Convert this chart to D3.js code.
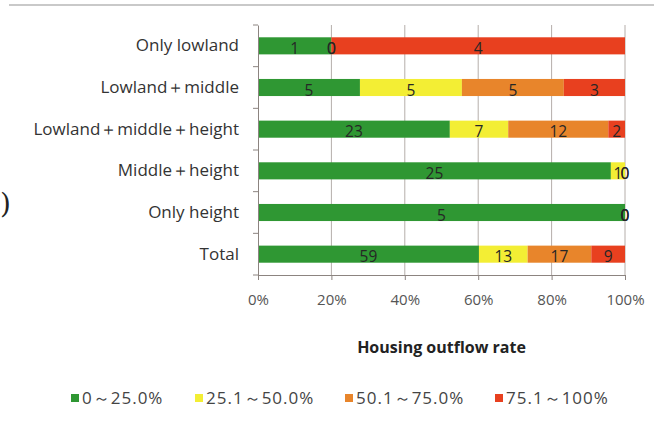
<!DOCTYPE html>
<html>
<head>
<meta charset="utf-8">
<script src="https://cdn.jsdelivr.net/npm/d3@7"></script>
<style>
  html, body { margin: 0; padding: 0; background: #fff; }
  svg { display: block; }
</style>
</head>
<body>
<svg id="chart" width="654" height="421"></svg>
<script>
// ---- Data ----
const categories = ["Only lowland", "Lowland\uFF0Bmiddle", "Lowland\uFF0Bmiddle\uFF0Bheight", "Middle\uFF0Bheight", "Only height", "Total"];
const seriesNames = ["0\uFF5E25.0%", "25.1\uFF5E50.0%", "50.1\uFF5E75.0%", "75.1\uFF5E100%"];
const s1 = [1, 5, 23, 25, 5, 59];
const s2 = [0, 5, 7, 1, 0, 13];
const s3 = [0, 5, 12, 0, 0, 17];
const s4 = [4, 3, 2, 0, 0, 9];
const xTicks = [0, 0.2, 0.4, 0.6, 0.8, 1.0];
const xTitle = "Housing outflow rate";
const colors = ["#2f9733", "#f3ee34", "#e8852b", "#e8401f"];

const series = [s1, s2, s3, s4];
const svg = d3.select("#chart");
const margin = { left: 258, right: 29, top: 25, bottom: 146 };
const W = 654, H = 421;
const FONT = "'Open Sans', sans-serif";
const x = d3.scaleLinear().domain([0, 1]).range([margin.left, W - margin.right]);
const y = d3.scaleBand().domain(categories).range([margin.top, H - margin.bottom]).paddingInner(0.59).paddingOuter(0.295);
const yFull = d3.scaleBand().domain(categories).range([margin.top, H - margin.bottom]);

// top frame line
svg.append("line").attr("x1", 9).attr("x2", 654).attr("y1", 5).attr("y2", 5)
  .attr("stroke", "#c9c9c9").attr("stroke-width", 2);

// stray parenthesis from neighbouring figure
svg.append("text").attr("x", 0).attr("y", 213).attr("text-anchor", "start")
  .attr("font-family", "DejaVu Serif, serif").attr("font-size", 28).attr("fill", "#222").text(")");

// gridlines
svg.append("g").selectAll("line").data(xTicks.slice(1)).join("line")
  .attr("x1", d => x(d)).attr("x2", d => x(d))
  .attr("y1", margin.top).attr("y2", H - margin.bottom)
  .attr("stroke", "#b5aeaa").attr("stroke-width", 1);

// stacked data
const stacked = categories.map((c, i) => {
  const vals = series.map(s => s[i]);
  const tot = d3.sum(vals);
  let acc = 0;
  return vals.map((v, k) => {
    const seg = { cat: c, k, v, x0: acc / tot, x1: (acc + v) / tot };
    acc += v;
    return seg;
  });
}).flat();

svg.append("g").selectAll("rect").data(stacked.filter(d => d.v > 0)).join("rect")
  .attr("x", d => x(d.x0)).attr("width", d => x(d.x1) - x(d.x0))
  .attr("y", d => y(d.cat)).attr("height", y.bandwidth())
  .attr("fill", d => colors[d.k]);

// data labels
svg.append("g").selectAll("text").data(stacked).join("text")
  .attr("x", d => x((d.x0 + d.x1) / 2))
  .attr("y", d => y(d.cat) + y.bandwidth() / 2 + 8)
  .attr("text-anchor", "middle")
  .attr("font-family", FONT).attr("font-size", 15.5)
  .attr("fill", "#262626")
  .text(d => d.v);

// x axis
const xAxis = d3.axisBottom(x).tickValues(xTicks).tickFormat(d3.format(".0%")).tickSize(5).tickPadding(14);
const gx = svg.append("g").attr("transform", `translate(0,${H - margin.bottom})`).call(xAxis);
gx.select(".domain").attr("stroke", "#8c8480");
gx.selectAll(".tick line").attr("stroke", "#8c8480");
gx.selectAll(".tick text").attr("font-family", FONT).attr("font-size", 15).attr("fill", "#555");

// y axis
const yAxis = d3.axisLeft(yFull).tickSize(0).tickPadding(19);
const gy = svg.append("g").attr("transform", `translate(${margin.left},0)`).call(yAxis);
gy.select(".domain").attr("stroke", "#8c8480");
gy.selectAll(".tick text").attr("font-family", FONT).attr("font-size", 17).attr("fill", "#333");
// y tick marks at band boundaries
svg.append("g").selectAll("line").data(categories.map(c => yFull(c)).concat([H - margin.bottom])).join("line")
  .attr("x1", margin.left - 5).attr("x2", margin.left)
  .attr("y1", d => d).attr("y2", d => d)
  .attr("stroke", "#8c8480");

// x title
svg.append("text").attr("x", (x(0) + x(1)) / 2).attr("y", 353)
  .attr("text-anchor", "middle").attr("font-family", FONT)
  .attr("font-weight", "bold").attr("font-size", 16).attr("fill", "#222").text(xTitle);

// legend
const legendX = [71, 195, 345, 495];
const lg = svg.append("g").selectAll("g").data(seriesNames).join("g")
  .attr("transform", (d, i) => `translate(${legendX[i]},398)`);
lg.append("rect").attr("x", 0).attr("y", -4).attr("width", 8).attr("height", 8)
  .attr("fill", (d, i) => colors[i]);
lg.append("text").attr("x", 11).attr("y", 6).attr("font-family", FONT)
  .attr("font-size", 17).attr("letter-spacing", 1).attr("fill", "#444").text(d => d);
</script>
</body>
</html>
